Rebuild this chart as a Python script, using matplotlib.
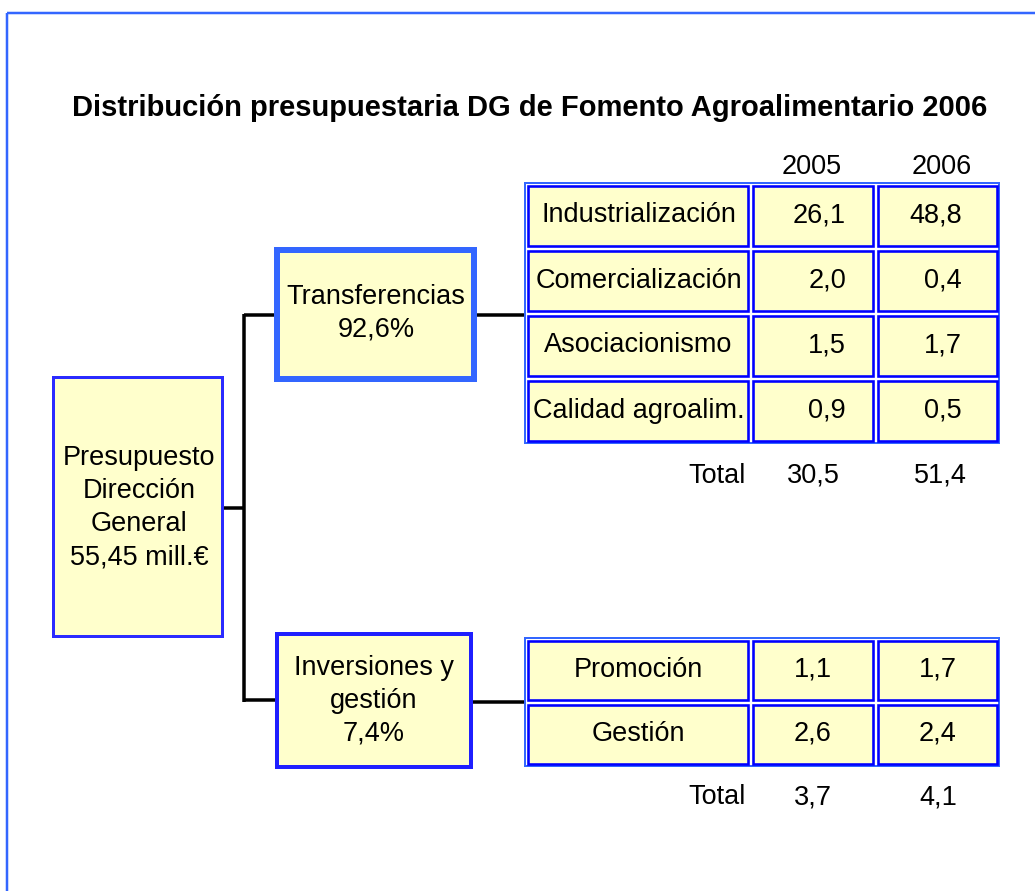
import matplotlib
matplotlib.use("Agg")
import matplotlib.pyplot as plt
from matplotlib.patches import Rectangle

plt.rcParams['font.family'] = ['Liberation Sans', 'DejaVu Sans']

# Data
title = "Distribución presupuestaria DG de Fomento Agroalimentario 2006"
years = ["2005", "2006"]
total_budget = 55.45
transf_share = 92.6
inv_share = 7.4
transf_labels = ["Industrialización", "Comercialización", "Asociacionismo", "Calidad agroalim."]
transf_2005 = [26.1, 2.0, 1.5, 0.9]
transf_2006 = [48.8, 0.4, 1.7, 0.5]
transf_total = [30.5, 51.4]
inv_labels = ["Promoción", "Gestión"]
inv_2005 = [1.1, 2.6]
inv_2006 = [1.7, 2.4]
inv_total = [3.7, 4.1]

YELLOW = "#FFFFCC"
BLUE = "#0000FF"
LBLUE = "#3366FF"
FS = 19.5
PX = 0.72  # points per pixel at dpi 100


def fmt(v, nd=1):
    return f"{v:.{nd}f}".replace(".", ",")


fig = plt.figure(figsize=(10.35, 8.91), dpi=100)
ax = fig.add_axes([0, 0, 1, 1])
ax.set_xlim(0, 1035)
ax.set_ylim(891, 0)
ax.axis("off")

# outer frame (only left and top visible)
ax.plot([7, 7], [891, 13], color=LBLUE, lw=2.5 * PX, solid_capstyle="butt")
ax.plot([7, 1035], [13, 13], color=LBLUE, lw=2.5 * PX, solid_capstyle="butt")

ax.text(530, 108, title, ha="center", va="center", fontsize=21, fontweight="bold")


def box(x0, y0, x1, y1, lw, color):
    ax.add_patch(Rectangle((x0, y0), x1 - x0, y1 - y0, facecolor=YELLOW,
                           edgecolor=color, lw=lw * PX, zorder=3))


# connectors
lk = dict(color="black", lw=3.5 * PX, solid_capstyle="butt", zorder=2)
ax.plot([222, 244], [508, 508], **lk)
ax.plot([244, 244], [313.5, 701.5], **lk)
ax.plot([244, 276], [315, 315], **lk)
ax.plot([244, 278], [700, 700], **lk)
ax.plot([476, 526], [315, 315], **lk)
ax.plot([470, 526], [702, 702], **lk)

# left box
box(53, 377, 222, 636, 3, "#2B2BFF")
left_lines = ["Presupuesto", "Dirección", "General", f"{fmt(total_budget, 2)} mill.€"]
for i, s in enumerate(left_lines):
    ax.text(139, 458 + 33 * i, s, ha="center", va="center", fontsize=FS, zorder=4)

# Transferencias box
box(277, 250, 474, 379, 6, LBLUE)
ax.text(376, 297, "Transferencias", ha="center", va="center", fontsize=FS, zorder=4)
ax.text(376, 330, f"{fmt(transf_share)}%", ha="center", va="center", fontsize=FS, zorder=4)

# Inversiones box
box(277, 634, 471, 767, 4, "#1F1FFF")
for i, s in enumerate(["Inversiones y", "gestión", f"{fmt(inv_share)}%"]):
    ax.text(374, 668 + 33 * i, s, ha="center", va="center", fontsize=FS, zorder=4)

cols = [525, 750, 875, 999]


def table(top, row_h, labels, v05, v06, right_align):
    n = len(labels)
    bottom = top + row_h * n
    ax.add_patch(Rectangle((cols[0], top), cols[-1] - cols[0], bottom - top,
                           facecolor="white", edgecolor=LBLUE, lw=2 * PX, zorder=2))
    for r in range(n):
        y0 = top + r * row_h
        y1 = y0 + row_h
        for c in range(3):
            x0, x1 = cols[c], cols[c + 1]
            ax.add_patch(Rectangle((x0 + 2.5, y0 + 2.5), x1 - x0 - 5, y1 - y0 - 5,
                                   facecolor=YELLOW, edgecolor=BLUE, lw=2.6 * PX, zorder=3))
        yc = (y0 + y1) / 2
        ax.text((cols[0] + cols[1]) / 2 + 1, yc, labels[r], ha="center", va="center",
                fontsize=FS, zorder=4)
        if right_align:
            ax.text(846, yc, fmt(v05[r]), ha="right", va="center", fontsize=FS, zorder=4)
            ax.text(962, yc, fmt(v06[r]), ha="right", va="center", fontsize=FS, zorder=4)
        else:
            ax.text(813, yc, fmt(v05[r]), ha="center", va="center", fontsize=FS, zorder=4)
            ax.text(938, yc, fmt(v06[r]), ha="center", va="center", fontsize=FS, zorder=4)
    return bottom


table(183, 65, transf_labels, transf_2005, transf_2006, True)
table(638, 64, inv_labels, inv_2005, inv_2006, False)

# headers
ax.text(812, 167, years[0], ha="center", va="center", fontsize=FS)
ax.text(942, 167, years[1], ha="center", va="center", fontsize=FS)

# totals
ax.text(746, 476, "Total", ha="right", va="center", fontsize=FS)
ax.text(813, 476, fmt(transf_total[0]), ha="center", va="center", fontsize=FS)
ax.text(940, 476, fmt(transf_total[1]), ha="center", va="center", fontsize=FS)
ax.text(746, 797, "Total", ha="right", va="center", fontsize=FS)
ax.text(813, 797, fmt(inv_total[0]), ha="center", va="center", fontsize=FS)
ax.text(938, 797, fmt(inv_total[1]), ha="center", va="center", fontsize=FS)

fig.savefig("out.png", dpi=100)
